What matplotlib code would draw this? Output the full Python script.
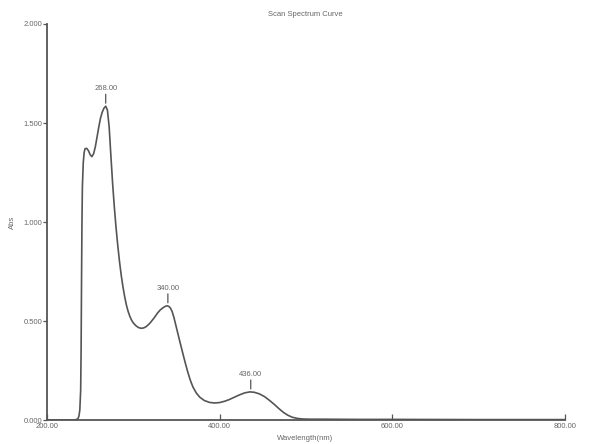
import matplotlib
matplotlib.use("Agg")
import matplotlib.pyplot as plt

# Scan spectrum (wavelength in nm, absorbance)
wavelength = [200, 220, 230, 234, 236, 237, 238, 239, 239.5, 240, 240.5, 241,
              242, 243, 244, 246, 248, 250, 252, 254, 256, 258, 260, 262,
              264, 266, 268, 270, 272, 274, 276, 278, 280, 282, 284, 286,
              288, 290, 292, 294, 296, 298, 300, 303, 306, 309, 312, 315,
              319, 324, 328, 331, 334, 337, 339, 341, 343, 345, 347, 349,
              351, 354, 357, 360, 363, 366, 369, 373, 377, 382, 388, 394,
              400, 406, 411, 417, 423, 429, 435, 440, 446, 452, 458, 464,
              469, 474, 479, 484, 490, 496, 505, 520, 560, 600, 700, 800]
absorbance = [0.0, 0.0, 0.0, 0.002, 0.008, 0.02, 0.05, 0.15, 0.35, 0.70, 1.00,
              1.18, 1.30, 1.35, 1.37, 1.372, 1.36, 1.34, 1.33, 1.345, 1.38,
              1.43, 1.48, 1.525, 1.555, 1.575, 1.585, 1.565, 1.48, 1.335,
              1.195, 1.075, 0.97, 0.88, 0.80, 0.73, 0.672, 0.622, 0.58,
              0.548, 0.523, 0.504, 0.49, 0.476, 0.467, 0.463, 0.465, 0.472,
              0.488, 0.515, 0.54, 0.555, 0.566, 0.574, 0.577, 0.574, 0.565,
              0.547, 0.518, 0.483, 0.447, 0.394, 0.342, 0.291, 0.243, 0.201,
              0.167, 0.136, 0.115, 0.099, 0.089, 0.086, 0.088, 0.095, 0.103,
              0.115, 0.127, 0.137, 0.142, 0.14, 0.132, 0.118, 0.098, 0.076,
              0.056, 0.038, 0.024, 0.014, 0.008, 0.005, 0.004, 0.004, 0.003,
              0.003, 0.002, 0.002]
peak_wl = [268, 340, 436]

yticks = [0.0, 0.5, 1.0, 1.5, 2.0]
xticks = [200, 400, 600, 800]

GRAY = "#555555"
TEXT = "#666666"

plt.rcParams["font.family"] = ["Liberation Sans", "DejaVu Sans"]

fig = plt.figure(figsize=(6.05, 4.44), dpi=100)
ax = fig.add_axes([47 / 605, 1 - 420 / 444, 518 / 605, 396 / 444])

ax.plot(wavelength, absorbance, color=GRAY, linewidth=1.2, solid_joinstyle="round")

# peak marks: short stroke above each peak, label above it
for p in peak_wl:
    # nearest sampled point
    i = min(range(len(wavelength)), key=lambda k: abs(wavelength[k] - p))
    a = absorbance[i]
    ax.annotate("", xy=(p, a + 0.015), xytext=(p, a + 0.06),
                arrowprops=dict(arrowstyle="-", color=GRAY, lw=0.9,
                                shrinkA=0, shrinkB=0))
    ax.text(p, a + 0.07, f"{p:.2f}", ha="center", va="bottom",
            fontsize=5.5, color=TEXT)

ax.set_xlim(200, 800)
ax.set_ylim(0, 2.0)
ax.set_xticks(xticks)
ax.set_xticklabels([f"{v:.2f}" for v in xticks])
ax.set_yticks(yticks)
ax.set_yticklabels([f"{v:.3f}" for v in yticks])

for s in ("top", "right"):
    ax.spines[s].set_visible(False)
for s in ("left", "bottom"):
    ax.spines[s].set_color(GRAY)
    ax.spines[s].set_linewidth(1.3)

ax.tick_params(axis="y", direction="out", length=3, width=0.9, colors=GRAY,
               labelsize=5.5, labelcolor=TEXT, pad=0.5)
ax.tick_params(axis="x", direction="in", length=4, width=0.9, colors=GRAY,
               labelsize=5.5, labelcolor=TEXT, pad=2.5)

fig.text(305 / 605, 1 - 14 / 444, "Scan Spectrum Curve", ha="center",
         va="center", fontsize=5.5, color=TEXT)
fig.text(12 / 605, 1 - 222 / 444, "Abs", rotation=90, ha="center",
         va="center", fontsize=5.5, color=TEXT)
fig.text(305 / 605, 1 - 438 / 444, "Wavelength(nm)", ha="center",
         va="center", fontsize=5.5, color=TEXT)

fig.savefig("out.png", dpi=100, facecolor="white")
